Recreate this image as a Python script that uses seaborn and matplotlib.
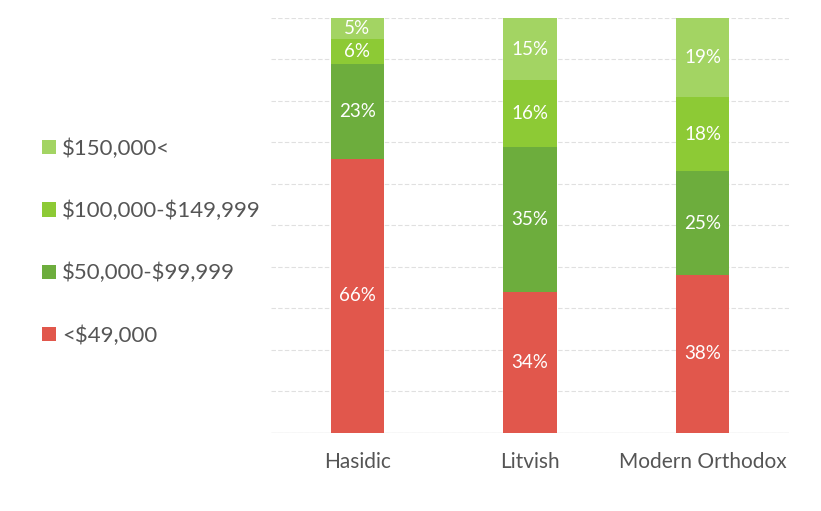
import numpy as np
import pandas as pd
import matplotlib
matplotlib.use("Agg")
import matplotlib.pyplot as plt
import seaborn as sns
from matplotlib.patches import Patch

# Household income distribution by community (percent)
groups = ["Hasidic", "Litvish", "Modern Orthodox"]
income_bands = ["<$49,000", "$50,000-$99,999", "$100,000-$149,999", "$150,000<"]
under_49k = [66, 34, 38]
from_50k_to_99k = [23, 35, 25]
from_100k_to_149k = [6, 16, 18]
over_150k = [5, 15, 19]

band_colors = ["#E1574C", "#6DAD3D", "#8DCA35", "#A3D463"]

sns.set_theme(style="white")
plt.rcParams["font.family"] = ["Lato", "DejaVu Sans"]
plt.rcParams["text.parse_math"] = False

layers = [under_49k, from_50k_to_99k, from_100k_to_149k, over_150k]
df = pd.DataFrame({"group": groups})
for band, vals in zip(income_bands, layers):
    df[band] = vals

# cumulative tops, so stacks are drawn as overlapping bars from tallest down
cum = np.cumsum(np.array(layers, dtype=float), axis=0)

fig = plt.figure(figsize=(8.21, 5.11), dpi=100)
ax = fig.add_axes([0.330, 0.153, 0.631, 0.812])

for i in range(len(income_bands) - 1, -1, -1):
    sns.barplot(x=df["group"], y=cum[i], color=band_colors[i], width=0.31,
                saturation=1, ax=ax, zorder=2, edgecolor="none", linewidth=0)

# percentage labels in the middle of each segment
for i, vals in enumerate(layers):
    for j, v in enumerate(vals):
        mid = cum[i][j] - v / 2
        ax.text(j, mid, f"{v}%", ha="center", va="center", color="white",
                fontsize=13.5, zorder=3)

ax.set_ylim(0, 100)
ax.set_xlim(-0.5, 2.5)
ax.set_yticks(np.arange(0, 101, 10))
ax.yaxis.grid(True, color="#e0e0e0", linewidth=0.8, linestyle=(0, (4, 2)), zorder=0)
ax.set_axisbelow(True)
ax.tick_params(axis="y", left=False, labelleft=False)
ax.tick_params(axis="x", bottom=False, labelsize=15, labelcolor="#555555", pad=8)
ax.set_xlabel("")
ax.set_ylabel("")
for s in ax.spines.values():
    s.set_visible(False)
ax.axhline(0, color="#cfcfcf", linewidth=0.9, zorder=1)

handles = [Patch(facecolor=band_colors[i], edgecolor="none", label=income_bands[i])
           for i in range(len(income_bands) - 1, -1, -1)]
fig.legend(handles=handles, loc="center left", bbox_to_anchor=(0.027, 0.526),
           frameon=False, fontsize=16, labelcolor="#555555", handlelength=0.6,
           handleheight=0.6, handletextpad=0.3, labelspacing=1.88)

fig.savefig("out.png", dpi=100, facecolor="white")
